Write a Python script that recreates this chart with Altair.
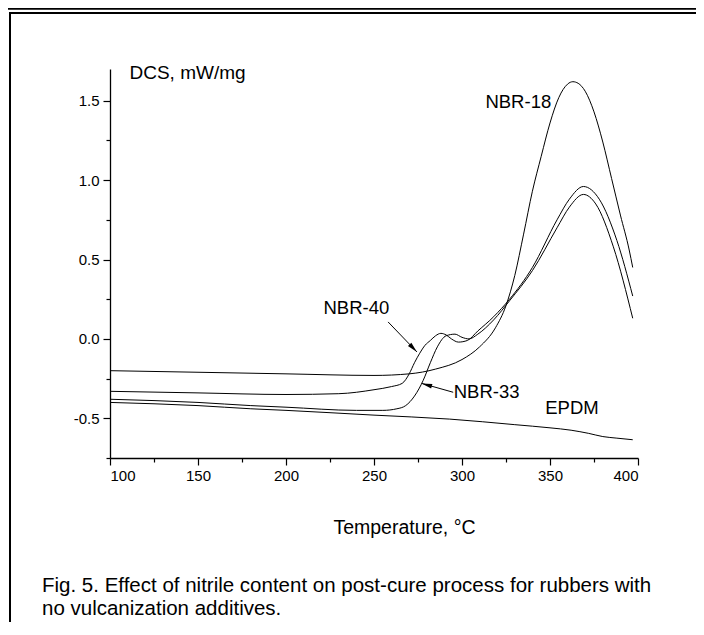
import altair as alt
import pandas as pd

# ---- data ----
T18 = [100, 150, 200, 250, 270, 285, 300, 310, 319, 325, 330, 335, 340, 345, 350, 355, 360, 363, 366, 370, 375, 380, 385, 390, 395, 397]
v18 = [-0.20, -0.21, -0.22, -0.23, -0.22, -0.19, -0.13, -0.05, 0.07, 0.21, 0.40, 0.66, 0.93, 1.15, 1.36, 1.52, 1.605, 1.62, 1.61, 1.56, 1.43, 1.24, 1.01, 0.78, 0.56, 0.45]

T40 = [100, 150, 200, 230, 250, 260, 266, 270, 273, 276, 279, 282, 285, 288, 291, 294, 298, 303, 309, 318, 327, 340, 354, 361, 369, 378, 388, 397]
v40 = [-0.33, -0.34, -0.35, -0.345, -0.32, -0.30, -0.28, -0.22, -0.15, -0.09, -0.04, -0.01, 0.02, 0.035, 0.025, 0.0, -0.02, -0.01, 0.05, 0.14, 0.25, 0.45, 0.75, 0.88, 0.96, 0.88, 0.62, 0.27]

T33 = [100, 150, 180, 200, 240, 255, 263, 268, 273, 278, 282, 286, 291, 296, 300, 304, 309, 318, 327, 340, 354, 361, 369, 376, 386, 397]
v33 = [-0.38, -0.40, -0.42, -0.43, -0.45, -0.45, -0.44, -0.42, -0.36, -0.26, -0.15, -0.05, 0.02, 0.03, 0.01, 0.0, 0.03, 0.12, 0.24, 0.43, 0.70, 0.83, 0.91, 0.85, 0.58, 0.13]

TE = [100, 150, 180, 200, 250, 293, 330, 350, 362, 372, 380, 388, 397]
vE = [-0.40, -0.42, -0.44, -0.45, -0.48, -0.505, -0.54, -0.56, -0.575, -0.595, -0.615, -0.625, -0.635]

series = [("NBR-18", T18, v18), ("NBR-40", T40, v40), ("NBR-33", T33, v33), ("EPDM", TE, vE)]

lab_text = ["NBR-18", "NBR-40", "NBR-33", "EPDM"]
lab_T = [332, 240, 314, 362.5]
lab_v = [1.495, 0.196, -0.334, -0.435]

arr_T0 = [258, 295]
arr_v0 = [0.107, -0.336]
arr_T1 = [274.4, 277.1]
arr_v1 = [-0.082, -0.28]
arr_ang = [136, 286]

x_ticks = [100, 125, 150, 175, 200, 225, 250, 275, 300, 325, 350, 375, 400]
y_ticks = [-0.75, -0.5, -0.25, 0.0, 0.25, 0.5, 0.75, 1.0, 1.25, 1.5]

caption1 = "Fig. 5. Effect of nitrile content on post-cure process for rubbers with"
caption2 = "no vulcanization additives."

# ---- build tables ----
rows = []
for name, T, v in series:
    for t, y in zip(T, v):
        rows.append({"series": name, "T": t, "v": y})
df = pd.DataFrame(rows)
labels = pd.DataFrame({"text": lab_text, "T": lab_T, "v": lab_v})
arrows = pd.DataFrame({"T0": arr_T0, "v0": arr_v0, "T1": arr_T1, "v1": arr_v1, "ang": arr_ang})
one = pd.DataFrame({"a": [0]})

FONT = "Liberation Sans"
xscale = alt.Scale(domain=[100, 400], nice=False, zero=False)
yscale = alt.Scale(domain=[-0.75, 1.7], nice=False, zero=False)

xaxis = alt.Axis(
    values=x_ticks, format="d", grid=False,
    labelExpr="datum.value % 50 === 0 ? datum.label : ''",
    tickSize={"condition": {"test": "datum.value % 50 === 0", "value": 7}, "value": 4},
    title="Temperature, \u00b0C", titleX=294, titleY=75, titleAlign="center",
    titleBaseline="alphabetic", titleFontSize=19.5, titleFontWeight="normal",
    labelFontSize=15, labelPadding=3,
)
yaxis = alt.Axis(
    values=y_ticks, format=".1f", grid=False,
    labelExpr="datum.value % 0.5 === 0 ? replace(datum.label, '\u2212', '-') : ''",
    tickSize={"condition": {"test": "datum.value % 0.5 === 0", "value": 7}, "value": 4},
    title="DCS, mW/mg", titleAngle=0, titleX=19, titleY=9, titleAlign="left",
    titleBaseline="alphabetic", titleFontSize=19, titleFontWeight="normal",
    labelFontSize=15, labelPadding=4,
)

lines = alt.Chart(df).mark_line(color="black", strokeWidth=1, interpolate="monotone").encode(
    x=alt.X("T:Q", scale=xscale, axis=xaxis),
    y=alt.Y("v:Q", scale=yscale, axis=yaxis),
    detail="series:N",
)

texts = alt.Chart(labels).mark_text(font=FONT, fontSize=18.5, color="black",
                                    align="center", baseline="middle").encode(
    x="T:Q", y="v:Q", text="text:N")

arrow_lines = alt.Chart(arrows).mark_rule(color="black", strokeWidth=1).encode(
    x="T0:Q", y="v0:Q", x2="T1:Q", y2="v1:Q")

arrow_heads = alt.Chart(arrows).mark_point(
    shape="M0,0L-0.45,2L0.45,2Z", filled=True, color="black", opacity=1, size=110,
    strokeWidth=0).encode(
    x="T1:Q", y="v1:Q", angle=alt.Angle("ang:Q", scale=None))

border1 = alt.Chart(one).mark_rule(color="black", strokeWidth=1.7).encode(
    x=alt.value(-102), x2=alt.value(590), y=alt.value(-60.1))
border2 = alt.Chart(one).mark_rule(color="black", strokeWidth=2).encode(
    x=alt.value(-101), x2=alt.value(590), y=alt.value(-56.1))
border3 = alt.Chart(one).mark_rule(color="black", strokeWidth=2).encode(
    x=alt.value(-100), y=alt.value(-57), y2=alt.value(560))

cap1 = alt.Chart(pd.DataFrame({"text": [caption1]})).mark_text(
    font=FONT, fontSize=20.5, color="black", align="left", baseline="middle").encode(
    x=alt.value(-68), y=alt.value(517), text="text:N")
cap2 = alt.Chart(pd.DataFrame({"text": [caption2]})).mark_text(
    font=FONT, fontSize=20.5, color="black", align="left", baseline="middle").encode(
    x=alt.value(-68), y=alt.value(540), text="text:N")

chart = alt.layer(lines, arrow_lines, arrow_heads, texts, border1, border2, border3, cap1, cap2).properties(
    width=528, height=389,
    autosize=alt.AutoSizeParams(type="none"),
    padding={"left": 102, "top": 61, "right": 58, "bottom": 164},
).configure_view(stroke=None).configure_axis(
    labelFont=FONT, titleFont=FONT, labelColor="black", titleColor="black",
    domainColor="black", tickColor="black", domainWidth=1.3, tickWidth=1.2,
    labelFontSize=15,
)

chart.save("out.html", embed_options={"renderer": "svg", "actions": False})
